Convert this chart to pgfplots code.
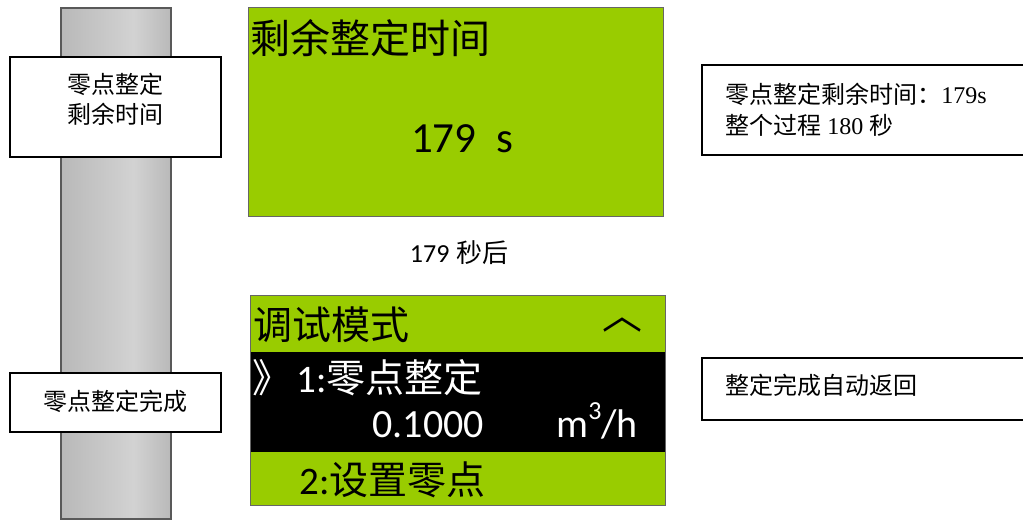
\documentclass[border=0pt]{standalone}
\usepackage{pgfplots}
\pgfplotsset{compat=1.18}
\usepackage{fontspec}
\setmainfont{Liberation Serif}
\newfontfamily\cjk{Noto Sans CJK SC}
\newfontfamily\carl{Carlito}
\definecolor{lcd}{HTML}{99CC00}
\pgfdeclarehorizontalshading{colshade}{100bp}{
  color(0bp)=(gray!70);
  color(25bp)=(gray!55);
  color(50bp)=(gray!40);
  color(58bp)=(gray!35);
  color(75bp)=(gray!55);
  color(100bp)=(gray!110!black)}
\newcommand{\fs}[1]{\fontsize{#1}{#1}\selectfont}
\begin{document}
\begin{tikzpicture}
\begin{axis}[
  scale only axis, width=511.5pt, height=260.5pt,
  xmin=0, xmax=1023, ymin=0, ymax=521, y dir=reverse,
  axis lines=none, clip=true,
]
% gray column
\shade[shading=colshade, draw=gray!70!black, line width=0.7pt]
  (axis cs:61,8) rectangle (axis cs:171,519);
% left boxes
\draw[fill=white, line width=1pt] (axis cs:10,57) rectangle (axis cs:221,157);
\node[font=\cjk\fs{12}, align=center, inner sep=0pt] at (axis cs:115.5,99) {零点整定\\[3pt]剩余时间};
\draw[fill=white, line width=1pt] (axis cs:10,373) rectangle (axis cs:221,432);
\node[font=\cjk\fs{12}, inner sep=0pt] at (axis cs:115.5,401) {零点整定完成};
% green panel 1
\draw[fill=lcd, draw=gray!80!black, line width=0.5pt] (axis cs:248,7) rectangle (axis cs:663,216);
\node[font=\cjk\fs{20}, anchor=base west, inner sep=0pt] at (axis cs:250,53) {剩余整定时间};
\node[font=\carl\fs{21.5}, anchor=base, inner sep=0pt] at (axis cs:462,152) {179\ \ s};
% between text
\node[font=\fs{13}, anchor=base, inner sep=0pt] at (axis cs:459,262) {{\carl 179} {\cjk 秒后}};
% green panel 2
\draw[fill=lcd, draw=gray!80!black, line width=0.5pt] (axis cs:250,295) rectangle (axis cs:665,505);
\fill[black] (axis cs:250,352) rectangle (axis cs:665,452);
\draw[draw=gray!80!black, line width=0.5pt] (axis cs:250,295) rectangle (axis cs:665,505);
\node[font=\cjk\fs{19.5}, anchor=base west, inner sep=0pt] at (axis cs:253,339) {调试模式};
\node[font=\cjk\fs{20}, anchor=center, inner sep=0pt] at (axis cs:622,325) {︿};
\node[font=\cjk\fs{19.5}, anchor=base west, inner sep=0pt, text=white] at (axis cs:252,392) {》};
\node[font=\fs{19.5}, anchor=base west, inner sep=0pt, text=white] at (axis cs:296,392) {{\carl 1:}{\cjk 零点整定}};
\node[font=\carl\fs{20}, anchor=base west, inner sep=0pt, text=white] at (axis cs:372,437) {0.1000};
\node[font=\carl\fs{20}, anchor=base west, inner sep=0pt, text=white] at (axis cs:556,437) {m\raisebox{0.45em}{\fs{13}3}/h};
\node[font=\fs{19.5}, anchor=base west, inner sep=0pt] at (axis cs:299,494) {{\carl 2:}{\cjk 设置零点}};
% right boxes
\draw[fill=white, line width=1pt] (axis cs:702,65) rectangle (axis cs:1040,155);
\node[font=\fs{12}, anchor=base west, inner sep=0pt] at (axis cs:725,103) {{\cjk 零点整定剩余时间：}179s};
\node[font=\fs{12}, anchor=base west, inner sep=0pt] at (axis cs:725,134) {{\cjk 整个过程} 180 {\cjk 秒}};
\draw[fill=white, line width=1pt] (axis cs:702,358) rectangle (axis cs:1040,420);
\node[font=\cjk\fs{12}, anchor=base west, inner sep=0pt] at (axis cs:725,394) {整定完成自动返回};
\end{axis}
\pgfresetboundingbox
\path (current axis.south west) rectangle (current axis.north east);
\end{tikzpicture}
\end{document}
